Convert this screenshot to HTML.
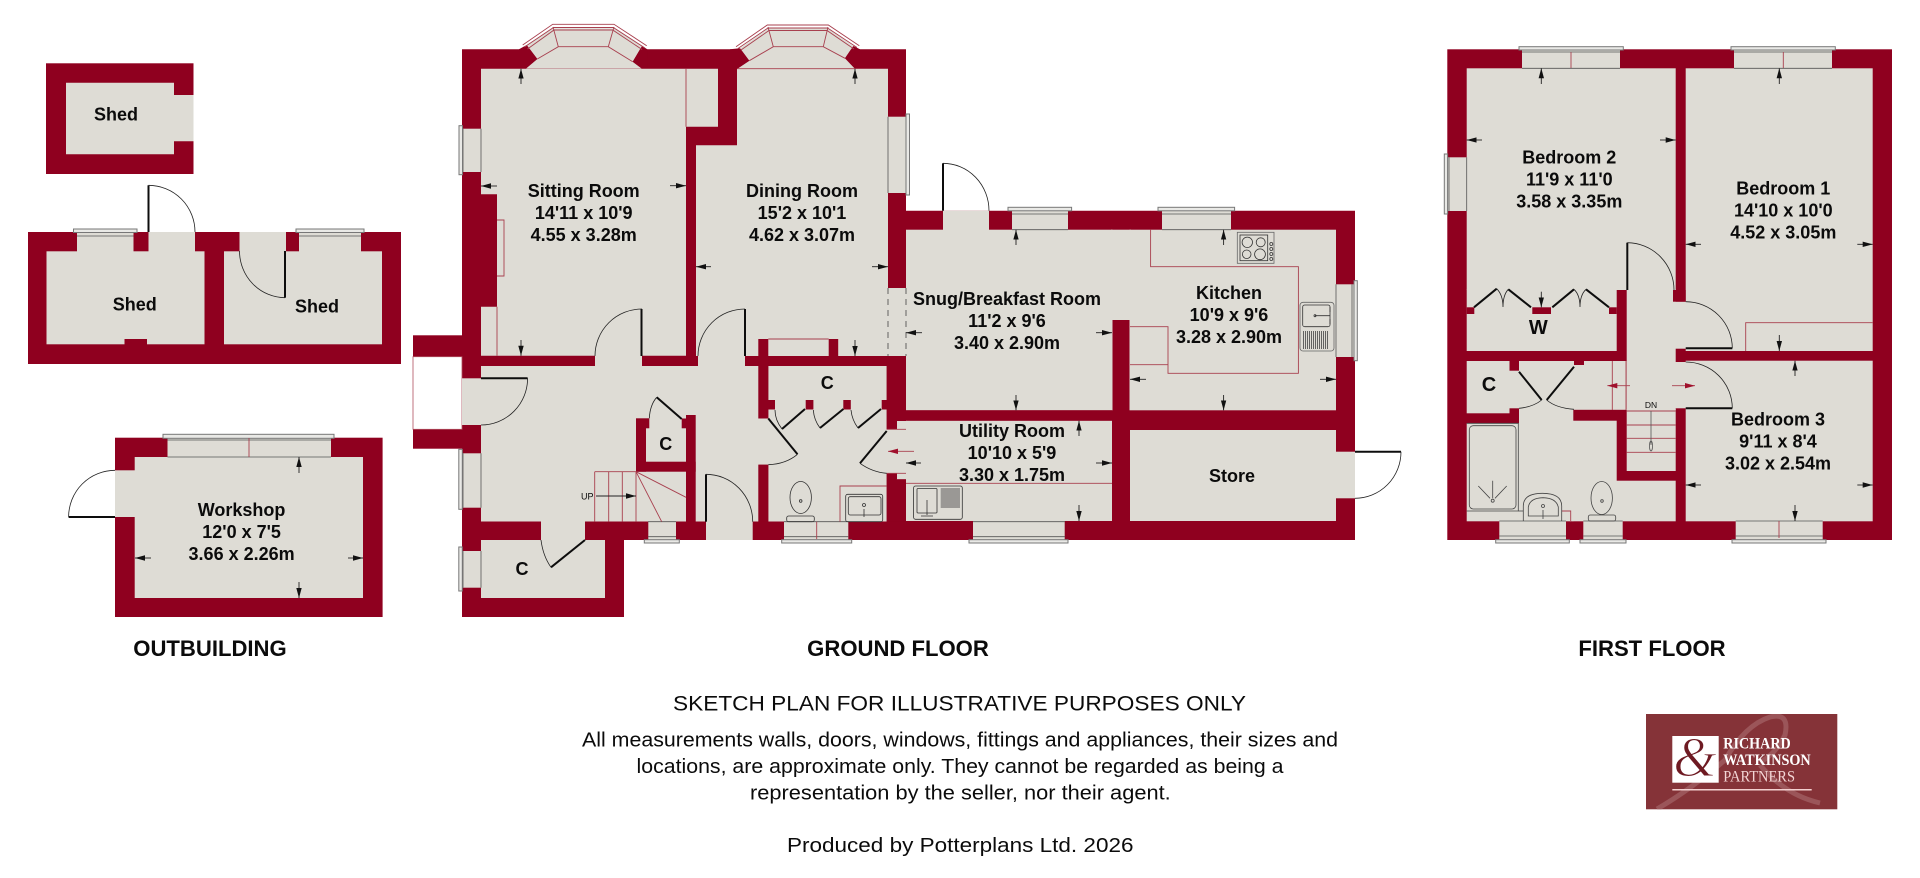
<!DOCTYPE html>
<html><head><meta charset="utf-8"><title>Floor plan</title>
<style>
html,body{margin:0;padding:0;background:#fff;width:1920px;height:878px;overflow:hidden}
svg{display:block}
text{font-family:"Liberation Sans",Arial,sans-serif;fill:#0b0b0b}
.t text,.t{font-weight:bold;font-size:18px;text-anchor:middle}
.w{fill:#8f001f}
.f{fill:#dedcd5}
.s{fill:#e9e9e6;stroke:#777;stroke-width:1}
.r{fill:none;stroke:#a8404f;stroke-width:.9}
.l{fill:none;stroke:#0d0d0d;stroke-width:2}
.a{fill:none;stroke:#222;stroke-width:.8}
.n{stroke:#222;stroke-width:.9;marker-end:url(#m)}
.nr{stroke:#a8404f;stroke-width:.9;marker-end:url(#mr)}
.h{fill:none;stroke:#555;stroke-width:.8}
</style></head><body>
<svg width="1920" height="878" viewBox="0 0 1920 878" xmlns="http://www.w3.org/2000/svg">
<defs>
<marker id="m" markerUnits="userSpaceOnUse" markerWidth="10" markerHeight="6" refX="10" refY="3" orient="auto"><path d="M0,.3L10,3L0,5.700z" fill="#111"/></marker>
<marker id="mr" markerUnits="userSpaceOnUse" markerWidth="10" markerHeight="6" refX="10" refY="3" orient="auto"><path d="M0,.3L10,3L0,5.700z" fill="#a0102c"/></marker>
<clipPath id="lg"><rect x="1646" y="714" width="191.300" height="95.300"/></clipPath>
</defs>

<!-- OUTBUILDING -->
<rect class="w" x="46" y="63.300" width="147.500" height="110.700"/>
<path class="f" d="M66,82.700H174V95H193.500V141.300H174V154.300H66z"/>

<rect class="w" x="28" y="232" width="373" height="132"/>
<rect class="f" x="46.500" y="251.300" width="158" height="93"/>
<rect class="f" x="224" y="251.300" width="158" height="93"/>
<rect class="w" x="124.500" y="339" width="22.500" height="6"/>
<rect class="f" x="148.500" y="232" width="46.500" height="20"/>
<rect class="f" x="239.500" y="232" width="46.500" height="20"/>
<rect class="f" x="77" y="232" width="56.500" height="20"/><path class="h" d="M77,236H133.500"/>
<rect class="f" x="299" y="232" width="62" height="20"/><path class="h" d="M299,236H361"/>
<path class="s" d="M73.500,229H137V232.500H73.500z"/><path class="s" d="M296,229H364V232.500H296z"/>
<path class="l" d="M148.500,232V185.300"/><path class="a" d="M148.500,185.300A46.500,46.700 0 0 1 195,232"/>
<path class="l" d="M285,251V297.700"/><path class="a" d="M285,297.700A46,46.700 0 0 1 239.500,251"/>

<rect class="w" x="115" y="437.700" width="267.600" height="179.300"/>
<rect class="f" x="134.700" y="457" width="228.300" height="141"/>
<rect class="f" x="115" y="470.300" width="20" height="46.700"/>
<rect class="f" x="167.500" y="437.700" width="163.500" height="19.500"/>
<rect class="s" x="163" y="434.300" width="171" height="4"/>
<path class="h" d="M167.500,440H331M167.500,457H331"/><path class="r" d="M249,438V457"/>
<path class="l" d="M68.600,517H115"/><path class="a" d="M68.600,517A46.400,46.700 0 0 1 115,470.300"/>
<line class="n" x1="299" y1="473" x2="299" y2="457"/><line class="n" x1="299" y1="582" x2="299" y2="598"/>
<line class="n" x1="151" y1="558" x2="135" y2="558"/><line class="n" x1="348" y1="558" x2="363" y2="558"/>

<!-- GROUND FLOOR WALLS -->
<path class="w" d="M462,49.300H906V210.700H1355V540H624V617H462z"/>
<rect class="w" x="413" y="335.300" width="49" height="21.400"/>
<rect class="w" x="413" y="429.300" width="49" height="19.400"/>
<rect x="413" y="356.700" width="49" height="72.600" fill="#fff" stroke="#b0505f" stroke-width=".8"/>

<!-- bays -->
<path class="f" d="M526.700,45L553,28.300H614L642,46L632.700,61.700L641.700,68.500H526L537.300,59z"/>
<path class="w" d="M519,49.300L526.700,45L537.300,59L526,68.500H519z"/>
<path class="w" d="M647.300,49.300L642,46L632.700,61.700L641.700,68.500H647.300z"/>
<path class="r" d="M522.700,45L552.700,24.300H614L646.700,45.700"/>
<path class="r" d="M524.500,47L553.500,27.500H613.300L645,48"/>
<path class="r" d="M527.500,49L554,30H612.700L642,49.500"/>
<path class="r" d="M537.300,59L558.300,46.700H608.300L632.700,61.700M558.300,46.700L553,27M608.300,46.700L614,27"/>
<path class="f" d="M740,48.300L768.600,28.300H827L853.300,46L845,58.300L855,68.700H737.300L749.300,60.700z"/>
<path class="w" d="M730,49.300L740,48.300L749.300,60.700L737.300,68.700H730z"/>
<path class="w" d="M845,58.300L853.300,46L860,49.300V68.700H855z"/>
<path class="r" d="M736,46.700L767.300,25H828.300L859.300,45.700"/>
<path class="r" d="M738,48.500L768,28H827.500L857,47.500"/>
<path class="r" d="M741,50L769,30.500H827L854,49"/>
<path class="r" d="M749.300,60.700L773.300,46.700H823.300L845,58.300M773.300,46.700L768,27M823.300,46.700L828,27"/>

<!-- GROUND FLOORS -->
<path class="f" d="M481,68.700H718V126.700H686V355.700H481V306.700H497V194.300H481z"/>
<path class="f" d="M737,68.700H888V288H906V356H696V145.300H737z" />
<rect class="w" x="686" y="145.300" width="10" height="224"/>
<rect class="f" x="906" y="229.700" width="206.500" height="180.600"/>
<rect class="f" x="1129.500" y="229.700" width="206.500" height="180.600"/>
<rect class="f" x="1111" y="229.700" width="20" height="90.300"/>
<rect class="f" x="906" y="420.700" width="206" height="100.300"/>
<rect class="f" x="1130" y="430" width="206" height="91"/>
<rect class="f" x="1335" y="451.700" width="20" height="46.600"/>
<rect class="f" x="481" y="366" width="277.500" height="155.500"/>
<rect class="f" x="595" y="355" width="47" height="12"/>
<rect class="f" x="698" y="355" width="47" height="12"/>
<rect class="f" x="757" y="418.500" width="12.500" height="46.200"/>
<rect class="f" x="768.300" y="366" width="118.400" height="155.500"/>
<rect class="f" x="886" y="429.300" width="11.500" height="44"/>
<rect class="f" x="896.500" y="420.700" width="10" height="58.600"/>
<rect class="f" x="462" y="378.300" width="20" height="46.700"/>
<rect class="f" x="481" y="540" width="124" height="58"/>
<rect class="f" x="541" y="520" width="44" height="21"/>
<rect class="f" x="706" y="520" width="46.700" height="20"/>
<rect class="w" x="745" y="356" width="143" height="10"/>
<rect class="w" x="696" y="356" width="2" height="10"/>
<rect class="w" x="758.300" y="339" width="10" height="79.500"/>
<rect class="w" x="828.700" y="339" width="9.500" height="17"/>
<rect class="w" x="758.300" y="464.700" width="10" height="57"/>
<rect class="w" x="886.700" y="356" width="19.300" height="65"/>
<rect class="w" x="886.700" y="421" width="10.300" height="8.300"/>
<rect class="w" x="886.700" y="473.300" width="10.300" height="6"/>
<rect class="w" x="886.700" y="479.300" width="19.300" height="42.500"/>
<rect class="w" x="906" y="410.300" width="206" height="10.400"/>
<rect class="w" x="768" y="400" width="7" height="9.500"/>
<rect class="w" x="805.700" y="400" width="7.700" height="9.500"/>
<rect class="w" x="843.300" y="400" width="7.500" height="9.500"/>
<rect class="w" x="881.700" y="400" width="5.500" height="9.500"/>
<!-- stair cupboard -->
<rect class="w" x="636" y="418.300" width="10" height="53.400"/>
<rect class="w" x="636" y="461.700" width="59.700" height="10"/>
<rect class="w" x="686" y="415" width="9.700" height="106.700"/>
<rect class="w" x="681.700" y="418.500" width="4.300" height="9.800"/>
<rect class="w" x="646" y="418.300" width="3.300" height="10"/>
<!-- windows ground -->
<rect class="f" x="462" y="128.700" width="19.500" height="43.300"/><path class="h" d="M481,128.700V172M463,128.700V172"/><rect class="s" x="459" y="125.700" width="3.500" height="49"/>
<rect class="f" x="887.500" y="116.700" width="19" height="76.300"/><path class="h" d="M888,116.700V193M906,116.700V193"/><rect class="s" x="906" y="114" width="3.500" height="81"/>
<rect class="f" x="943" y="210.700" width="46" height="19.500"/>
<rect class="f" x="1012" y="210.700" width="56" height="19.500"/><path class="h" d="M1012,214H1068M1012,229.700H1068"/><rect class="s" x="1008" y="207.300" width="63.600" height="3.500"/>
<rect class="f" x="1162" y="210.700" width="69" height="19.500"/><path class="h" d="M1162,214H1231M1162,229.700H1231"/><rect class="s" x="1158" y="207.300" width="76.600" height="3.500"/>
<rect class="f" x="1335.500" y="284.300" width="19.500" height="72.700"/><path class="h" d="M1336,284.300V357M1352,284.300V357"/><rect class="s" x="1354" y="280.700" width="3.300" height="80"/>
<rect class="f" x="462" y="453.300" width="19.500" height="54.400"/><path class="h" d="M481,453.300V507.700M463,453.300V507.700"/><rect class="s" x="458.800" y="449.300" width="3.500" height="60"/>
<rect class="f" x="462" y="551" width="19.500" height="36.700"/><path class="h" d="M481,551V587.700M463,551V587.700"/><rect class="s" x="458.800" y="547" width="3.500" height="44"/>
<rect class="f" x="648.300" y="521" width="27.700" height="19"/><path class="h" d="M648,536.700H676M648,521.700H676"/><rect class="s" x="644.300" y="539.700" width="35" height="3.300"/>
<rect class="f" x="784" y="521" width="64.300" height="19"/><path class="h" d="M784,536.700H848.300M784,521.700H848.300"/><path class="r" d="M816.700,521.700V539"/><rect class="s" x="781.700" y="539.700" width="70" height="3.300"/>
<rect class="f" x="973" y="520.500" width="91.700" height="19.500"/><path class="h" d="M973,536.700H1065M973,521.700H1065"/><rect class="s" x="969" y="539.700" width="99" height="3.300"/>

<!-- ground red lines -->
<path class="r" d="M1150.600,229.700V266.700H1298.400V373.300H1168V326.700H1130M1130,364.700H1168"/>
<path class="r" d="M906,483.300H1112"/>
<path class="r" d="M686,68.700V126.700"/>
<path class="r" d="M497,306.700V355.700"/>
<path class="r" d="M497,220H504V276H497"/>
<path class="r" d="M737,68.700H855"/>
<path class="r" d="M768.300,339H828.700"/>
<path class="r" d="M886.700,429.300H906M886.700,473.300H906"/>
<path class="r" d="M594.700,471.700H636M594.700,471.700V521.700M608.700,471.700V521.700M622.300,471.700V521.700M636,471.700V521.700M636,471.700L686,497.300M636,471.700L661.700,521.700"/>
<path d="M888,288V356M906,288V356" stroke="#444" stroke-width=".8" stroke-dasharray="6 5" fill="none"/>
<path class="r" d="M840,521.700V486H886.700"/>

<!-- ground doors -->
<path class="l" d="M481,378.300H527.600"/><path class="a" d="M527.600,378.300A46.600,46.700 0 0 1 481,425"/>
<path class="l" d="M641.500,309V356"/><path class="a" d="M595,356A47,47 0 0 1 642,309"/>
<path class="l" d="M745,309V356"/><path class="a" d="M698,356A47,47 0 0 1 745,309"/>
<path class="l" d="M943,210.700V163.300"/><path class="a" d="M943,163.300A46,47.400 0 0 1 989,210.700"/>
<path class="l" d="M706,521.700V474.300"/><path class="a" d="M706,474.300A46.700,47.400 0 0 1 752.700,521.700"/>
<path class="l" d="M1355,451.700H1401"/><path class="a" d="M1401,451.700A46,46.600 0 0 1 1355,498.300"/>
<path class="l" d="M585,540L551,567.300"/><path class="a" d="M551,567.300Q543,556 541,540"/>
<path class="l" d="M768.300,418.500L797.500,454.300"/><path class="a" d="M797.500,454.300Q786,464 768.300,464.700"/>
<path class="l" d="M886.700,431L860,463.300"/><path class="a" d="M860,463.300Q872,472 886.700,473.300"/>
<path class="l" d="M805,409L782,429M843.400,409L820,428M881,409L858,428"/>
<path class="a" d="M782,429Q775,420 775,410M820,428Q814,420 813.300,410M858,428Q852,420 851,410"/>
<path class="l" d="M656.700,397.300L681.700,419"/><path class="a" d="M656.700,397.300Q650,405 649.300,418.300"/>

<!-- fixtures ground -->
<g fill="none" stroke="#333" stroke-width=".8">
<rect x="1237.300" y="232.300" width="36.700" height="31" stroke="#666"/><rect x="1240" y="235" width="27.700" height="25.700"/>
<circle cx="1247.300" cy="242.300" r="5.200"/><circle cx="1260.700" cy="242.300" r="4.500"/><circle cx="1246.700" cy="254.300" r="4.300"/><circle cx="1260" cy="254.300" r="5.400"/>
<circle cx="1271.300" cy="244" r="1.500"/><circle cx="1271.300" cy="249" r="1.500"/><circle cx="1271.300" cy="254" r="1.500"/><circle cx="1271.300" cy="259" r="1.500"/>
<rect x="1300" y="302.300" width="34" height="48.700" rx="3" stroke="#666"/><rect x="1302.700" y="305" width="27.300" height="21.700" rx="2"/>
<path d="M1315,315.700H1330M1330,307V312M1330,319V324"/><circle cx="1315" cy="315.700" r="1"/>
<path stroke="#555" stroke-width=".9" d="M1303.500,331V349M1305.500,331V349M1307.500,331V349M1309.500,331V349M1311.500,331V349M1313.500,331V349M1315.500,331V349M1317.500,331V349M1319.500,331V349M1321.500,331V349M1323.500,331V349M1325.500,331V349M1327.500,331V349"/>
<ellipse cx="800.700" cy="497.500" rx="10.700" ry="16"/><rect x="786.700" y="516" width="27.600" height="5.700" rx="2"/><circle cx="800.700" cy="501" r="1.300"/>
<rect x="845.700" y="494.300" width="37" height="27.400" rx="2"/><rect x="848.300" y="496.700" width="32.700" height="18.300" rx="2"/><circle cx="864" cy="505" r="1.500"/><path d="M864,509V517"/>
<rect x="913.600" y="486" width="48.700" height="33.300" rx="2"/><rect x="917" y="488.500" width="20" height="24.500" rx="1"/>
<path d="M927,500V515M921,516H933"/>
<path stroke="#555" stroke-width=".9" d="M940.700,489H960M940.700,491H960M940.700,493H960M940.700,495H960M940.700,497H960M940.700,499H960M940.700,501H960M940.700,503H960M940.700,505H960M940.700,507H960"/>
</g>

<!-- arrows ground -->
<line class="n" x1="521" y1="84" x2="521" y2="68.700"/><line class="n" x1="521" y1="340" x2="521" y2="355.700"/>
<line class="n" x1="497" y1="186" x2="481" y2="186"/><line class="n" x1="670" y1="185.700" x2="686" y2="185.700"/>
<line class="n" x1="855" y1="84" x2="855" y2="68.700"/><line class="n" x1="855" y1="340" x2="855" y2="356"/>
<line class="n" x1="711" y1="266.700" x2="696" y2="266.700"/><line class="n" x1="872" y1="266.700" x2="888" y2="266.700"/>
<line class="n" x1="1016" y1="245" x2="1016" y2="229.700"/><line class="n" x1="1016" y1="395" x2="1016" y2="410.300"/>
<line class="n" x1="922" y1="332.700" x2="906" y2="332.700"/><line class="n" x1="1096" y1="332.700" x2="1112" y2="332.700"/>
<line class="n" x1="1223.600" y1="245" x2="1223.600" y2="229.700"/><line class="n" x1="1223.600" y1="395" x2="1223.600" y2="410.300"/>
<line class="n" x1="1146" y1="379.300" x2="1130" y2="379.300"/><line class="n" x1="1320" y1="379.300" x2="1336" y2="379.300"/>
<line class="n" x1="1079" y1="436" x2="1079" y2="420.700"/><line class="n" x1="1079" y1="505" x2="1079" y2="521"/>
<line class="n" x1="921" y1="463" x2="906" y2="463"/><line class="n" x1="1096" y1="463" x2="1112" y2="463"/>
<line class="nr" x1="914" y1="451.300" x2="888" y2="451.300"/>
<line class="n" x1="596" y1="496" x2="636" y2="496"/>
<text x="581" y="499.500" font-size="9">UP</text>

<!-- FIRST FLOOR -->
<rect class="w" x="1447.300" y="49.300" width="444.700" height="490.700"/>
<rect class="f" x="1466.700" y="68.300" width="209" height="221.700"/>
<rect class="f" x="1466.700" y="289.500" width="150" height="61.500"/>
<rect class="f" x="1626.700" y="289.500" width="49" height="120.500"/>
<rect class="f" x="1685.700" y="68.300" width="187" height="282.700"/>
<rect class="f" x="1675" y="301.700" width="11" height="47"/>
<rect class="w" x="1673" y="290" width="12.700" height="11.700"/>
<rect class="f" x="1466.700" y="361" width="42.800" height="52.300"/>
<rect class="f" x="1508.500" y="370.700" width="11" height="37.600"/>
<rect class="f" x="1519" y="361" width="107.700" height="48.800"/>
<rect class="w" x="1574" y="361" width="10" height="4"/>
<rect class="f" x="1466.700" y="423.300" width="53" height="98"/>
<rect class="f" x="1519" y="409" width="54.300" height="112.300"/>
<rect class="f" x="1572.500" y="420.700" width="44.200" height="100.600"/>
<rect class="f" x="1616" y="480.700" width="59.700" height="40.600"/>
<rect class="f" x="1626.700" y="409" width="49" height="62"/>
<rect class="f" x="1685.700" y="360.700" width="187" height="160.600"/>
<rect class="f" x="1675" y="362" width="11.500" height="46.300"/>
<!-- wardrobe stubs -->
<rect class="w" x="1466.700" y="307.300" width="7.600" height="6.700"/>
<rect class="w" x="1532.300" y="307.300" width="18.700" height="6.700"/>
<rect class="w" x="1609" y="307.300" width="7.700" height="6.700"/>
<!-- first windows -->
<rect class="f" x="1522" y="49.300" width="98" height="19.500"/><path class="h" d="M1522,52H1620M1522,68.300H1620"/><path class="r" d="M1571,52V68"/><rect class="s" x="1519" y="46.700" width="104.300" height="3.300"/>
<rect class="f" x="1734" y="49.300" width="98" height="19.500"/><path class="h" d="M1734,52H1832M1734,68.300H1832"/><path class="r" d="M1783.300,52V68"/><rect class="s" x="1731" y="46.700" width="104.300" height="3.300"/>
<rect class="f" x="1447.300" y="157.300" width="19.900" height="53.700"/><path class="h" d="M1449,157.300V211M1466.700,157.300V211"/><rect class="s" x="1444.300" y="154" width="3.300" height="60"/>
<rect class="f" x="1499.300" y="520.500" width="66.700" height="19.500"/><path class="h" d="M1499.300,536H1566M1499.300,521H1566"/><rect class="s" x="1495.700" y="539.700" width="73.600" height="3.300"/>
<rect class="f" x="1583.300" y="520.500" width="39.400" height="19.500"/><path class="h" d="M1583.300,536H1622.700M1583.300,521H1622.700"/><rect class="s" x="1580" y="539.700" width="46" height="3.300"/>
<rect class="f" x="1735.700" y="520.500" width="87" height="19.500"/><path class="h" d="M1735.700,536H1822.700M1735.700,521H1822.700"/><path class="r" d="M1779,521V538"/><rect class="s" x="1732" y="539.700" width="94" height="3.300"/>
<!-- first red lines -->
<path class="r" d="M1745.700,351V322.700H1872.700"/>
<path class="r" d="M1612.300,361V410M1626,361V410M1626.700,411H1675.700M1626.700,425H1675.700M1626.700,438.300H1675.700M1626.700,452.300H1675.700M1561.700,511H1570.700V521"/>
<path d="M1651,411V445" stroke="#555" stroke-width=".8"/>
<ellipse cx="1651" cy="446" rx="1.500" ry="5" fill="none" stroke="#555" stroke-width=".8"/>
<line class="nr" x1="1630" y1="385.700" x2="1607.300" y2="385.700"/><line class="nr" x1="1672" y1="385.700" x2="1695" y2="385.700"/>
<text x="1651" y="408" font-size="8.500" text-anchor="middle">DN</text>
<!-- first doors -->
<path class="l" d="M1627.300,290V242.700"/><path class="a" d="M1627.300,242.700A47,47.300 0 0 1 1674,290"/>
<path class="l" d="M1685.700,348.300H1732.300"/><path class="a" d="M1732.300,348.300A46.600,46.600 0 0 0 1685.700,301.700"/>
<path class="l" d="M1685.700,408.300H1732.300"/><path class="a" d="M1685.700,362A46.600,46.300 0 0 1 1732.300,408.300"/>
<path class="l" d="M1519,371.700L1541.700,400M1574,366.700L1546.700,400"/>
<path class="a" d="M1541.700,400Q1533,407 1519,408.300M1546.700,400Q1556,408 1574,409.300"/>
<path class="l" d="M1474,307.300L1496.700,288.700M1508.300,289.300L1531,307.300M1552.300,307.300L1574,289.300M1586,289.300L1609,307.300"/>
<path class="a" d="M1496.700,288.700Q1503,295 1503,307Q1503,295 1508.300,289.300M1574,289.300Q1580,295 1580,307Q1580,295 1586,289.300"/>
<!-- first fixtures -->
<g fill="none" stroke="#444" stroke-width=".8">
<path d="M1466.700,423.300H1518.300V511H1466.700"/>
<rect x="1469.300" y="425.700" width="46.700" height="83.300" rx="4"/>
<path d="M1478.300,486L1490,498.300M1492.700,480.700V498.300M1506.700,486L1495,498.300"/><circle cx="1492.700" cy="500.700" r="1.500"/>
<path d="M1518.300,511H1523.300"/>
<path d="M1523.300,521V506Q1523.300,493.300 1542.500,493.300Q1561.700,493.300 1561.700,506V521"/>
<path d="M1528.300,516V507Q1530,498 1543,497.700Q1556,498 1558.300,507V516z"/><circle cx="1543" cy="506" r="1.500"/><path d="M1543,510V519"/>
<ellipse cx="1601.700" cy="498" rx="10.700" ry="16.500"/><circle cx="1602" cy="501" r="1.300"/><rect x="1588.300" y="515" width="27.400" height="6" rx="2"/>
</g>
<!-- first arrows -->
<line class="n" x1="1541.300" y1="84" x2="1541.300" y2="68.300"/><line class="n" x1="1541.300" y1="291.700" x2="1541.300" y2="307.300"/>
<line class="n" x1="1482" y1="140" x2="1466.700" y2="140"/><line class="n" x1="1660" y1="140" x2="1675.700" y2="140"/>
<line class="n" x1="1779.300" y1="84" x2="1779.300" y2="68.300"/><line class="n" x1="1779.300" y1="335" x2="1779.300" y2="351"/>
<line class="n" x1="1701" y1="244.300" x2="1685.700" y2="244.300"/><line class="n" x1="1857.300" y1="244.300" x2="1872.700" y2="244.300"/>
<line class="n" x1="1795" y1="376" x2="1795" y2="360.700"/><line class="n" x1="1795" y1="505" x2="1795" y2="521"/>
<line class="n" x1="1701" y1="485" x2="1685.700" y2="485"/><line class="n" x1="1857.300" y1="485" x2="1872.700" y2="485"/>

<!-- ROOM LABELS -->
<g class="t">
<text x="116" y="120.700">Shed</text>
<text x="134.700" y="310.700">Shed</text>
<text x="317" y="312.700">Shed</text>
<text x="241.600" y="516">Workshop</text><text x="241.600" y="538">12'0 x 7'5</text><text x="241.600" y="560">3.66 x 2.26m</text>
<text x="583.700" y="197">Sitting Room</text><text x="583.700" y="219">14'11 x 10'9</text><text x="583.700" y="241">4.55 x 3.28m</text>
<text x="802" y="197">Dining Room</text><text x="802" y="219">15'2 x 10'1</text><text x="802" y="241">4.62 x 3.07m</text>
<text x="1007" y="305">Snug/Breakfast Room</text><text x="1007" y="327">11'2 x 9'6</text><text x="1007" y="349">3.40 x 2.90m</text>
<text x="1229" y="299">Kitchen</text><text x="1229" y="321">10'9 x 9'6</text><text x="1229" y="343">3.28 x 2.90m</text>
<text x="1012" y="437">Utility Room</text><text x="1012" y="459">10'10 x 5'9</text><text x="1012" y="481">3.30 x 1.75m</text>
<text x="1232" y="482">Store</text>
<text x="827.300" y="389">C</text><text x="665.700" y="450">C</text><text x="522" y="575">C</text>
<text x="1569.300" y="163.300">Bedroom 2</text><text x="1569.300" y="185.300">11'9 x 11'0</text><text x="1569.300" y="207.300">3.58 x 3.35m</text>
<text x="1783.300" y="194.300">Bedroom 1</text><text x="1783.300" y="216.300">14'10 x 10'0</text><text x="1783.300" y="238.300">4.52 x 3.05m</text>
<text x="1778" y="425.700">Bedroom 3</text><text x="1778" y="447.700">9'11 x 8'4</text><text x="1778" y="469.700">3.02 x 2.54m</text>
<text x="1538.300" y="334" style="font-size:20px">W</text>
<text x="1489" y="391" style="font-size:20px">C</text>
</g>

<!-- HEADINGS -->
<g font-weight="bold" font-size="22.100" text-anchor="middle">
<text x="210" y="656">OUTBUILDING</text>
<text x="898" y="656">GROUND FLOOR</text>
<text x="1652" y="656">FIRST FLOOR</text>
</g>
<text x="673" y="710.700" font-size="21.500" textLength="573" lengthAdjust="spacingAndGlyphs">SKETCH PLAN FOR ILLUSTRATIVE PURPOSES ONLY</text>
<g font-size="20.500">
<text x="582" y="746.700" textLength="756" lengthAdjust="spacingAndGlyphs">All measurements walls, doors, windows, fittings and appliances, their sizes and</text>
<text x="636.500" y="773" textLength="647" lengthAdjust="spacingAndGlyphs">locations, are approximate only. They cannot be regarded as being a</text>
<text x="750" y="799.700" textLength="420.700" lengthAdjust="spacingAndGlyphs">representation by the seller, nor their agent.</text>
<text x="787" y="852" textLength="346.500" lengthAdjust="spacingAndGlyphs">Produced by Potterplans Ltd. 2026</text>
</g>

<!-- LOGO -->
<rect x="1646" y="714" width="191.300" height="95.300" fill="#853338"/>
<g clip-path="url(#lg)" fill="none" stroke="#9b5559" stroke-width="5">
<path d="M1657,809Q1690,790 1725,760Q1745,725 1770,717Q1790,712 1785,735Q1775,755 1760,762"/>
<path d="M1760,765Q1785,795 1820,803"/>
</g>
<rect x="1672.300" y="736" width="46.400" height="46.700" fill="#fff"/>
<text x="1695" y="776" font-size="56" text-anchor="middle" stroke="#fff" stroke-width="1.100" style="font-family:'Liberation Serif',serif;font-style:italic;fill:#6e1a22">&amp;</text>
<g font-size="16">
<text x="1723.300" y="748.300" font-weight="bold" textLength="67.400" lengthAdjust="spacingAndGlyphs" style="font-family:'Liberation Serif',serif;fill:#fff">RICHARD</text>
<text x="1723.300" y="765" font-weight="bold" textLength="87.400" lengthAdjust="spacingAndGlyphs" style="font-family:'Liberation Serif',serif;fill:#fff">WATKINSON</text>
<text x="1723.300" y="781.700" textLength="71.700" lengthAdjust="spacingAndGlyphs" style="font-family:'Liberation Serif',serif;fill:#f3d5d5">PARTNERS</text>
</g>
<rect x="1672.300" y="789" width="139.400" height="1.500" fill="#f3d0d0"/>
</svg>
</body></html>
